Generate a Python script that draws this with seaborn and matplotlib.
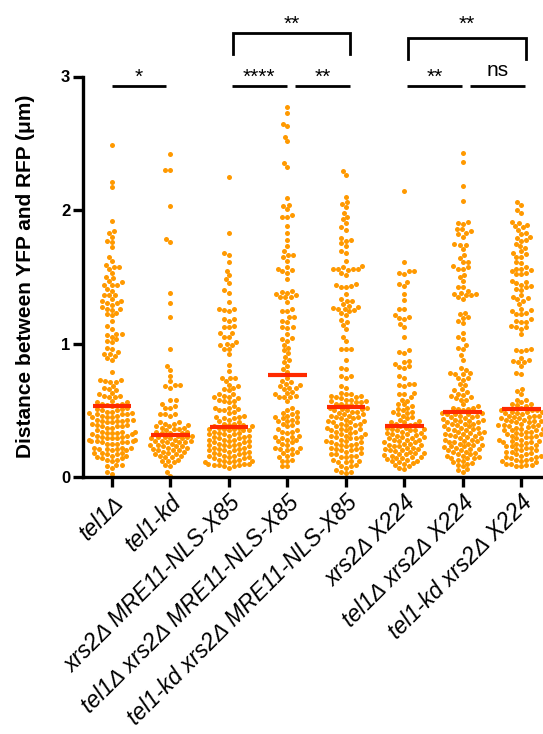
import warnings
warnings.filterwarnings("ignore")
import numpy as np
import pandas as pd
import matplotlib
matplotlib.use("Agg")
import matplotlib.pyplot as plt
import seaborn as sns

# ---------------- data ----------------
categories = ["tel1Δ", "tel1-kd", "xrs2Δ MRE11-NLS-X85", "tel1Δ xrs2Δ MRE11-NLS-X85",
              "tel1-kd xrs2Δ MRE11-NLS-X85", "xrs2Δ X224", "tel1Δ xrs2Δ X224",
              "tel1-kd xrs2Δ X224"]

tel1_del = [
    2.49, 2.21, 2.17, 1.92, 1.84, 1.83, 1.80, 1.77, 1.76, 1.72,
    1.65, 1.62, 1.59, 1.57, 1.57, 1.56, 1.53, 1.50, 1.49, 1.47,
    1.46, 1.44, 1.44, 1.44, 1.41, 1.39, 1.36, 1.36, 1.36, 1.33,
    1.32, 1.32, 1.30, 1.30, 1.29, 1.27, 1.26, 1.26, 1.25, 1.23,
    1.22, 1.21, 1.17, 1.13, 1.11, 1.07, 1.07, 1.06, 1.05, 1.03,
    1.02, 1.01, 0.97, 0.96, 0.94, 0.92, 0.92, 0.91, 0.89, 0.88,
    0.79, 0.73, 0.73, 0.72, 0.71, 0.71, 0.68, 0.67, 0.66, 0.65,
    0.63, 0.62, 0.61, 0.61, 0.60, 0.60, 0.57, 0.56, 0.56, 0.55,
    0.55, 0.54, 0.54, 0.53,
    0.52, 0.51, 0.51, 0.50, 0.50, 0.49, 0.49, 0.48, 0.48,
    0.47, 0.47, 0.47, 0.46, 0.46, 0.45, 0.45, 0.45,
    0.43, 0.43, 0.43, 0.42, 0.42, 0.42, 0.41, 0.41,
    0.40, 0.39, 0.39, 0.38, 0.38, 0.38, 0.37, 0.37,
    0.35, 0.34, 0.34, 0.34, 0.33, 0.33, 0.33, 0.32, 0.32,
    0.31, 0.31, 0.30, 0.30, 0.29, 0.29, 0.29, 0.28, 0.28,
    0.27, 0.27, 0.27, 0.26, 0.26, 0.26, 0.25, 0.25, 0.25,
    0.22, 0.22, 0.22, 0.21, 0.21, 0.21, 0.20, 0.20,
    0.18, 0.18, 0.18, 0.17, 0.17, 0.16, 0.16,
    0.15, 0.14, 0.14, 0.13, 0.13, 0.12,
    0.09, 0.09, 0.08, 0.07,
    0.04, 0.02]

tel1_kd = [
    2.42, 2.30, 2.30, 2.03, 1.78, 1.76, 1.38, 1.30, 1.20, 0.96,
    0.83, 0.80, 0.76, 0.72, 0.69, 0.69, 0.68, 0.67, 0.58, 0.575,
    0.55, 0.53, 0.52, 0.52, 0.47, 0.47, 0.47, 0.46, 0.41, 0.40,
    0.41, 0.40, 0.39, 0.38, 0.38, 0.37, 0.37, 0.36, 0.36, 0.35,
    0.34, 0.34, 0.33, 0.33, 0.33,
    0.31, 0.31, 0.30, 0.30, 0.30, 0.29, 0.29, 0.29,
    0.28, 0.27, 0.27, 0.27, 0.26, 0.26, 0.26, 0.25,
    0.24, 0.24, 0.23, 0.23, 0.23, 0.22, 0.22,
    0.21, 0.20, 0.20, 0.20, 0.19, 0.19, 0.18,
    0.17, 0.17, 0.16, 0.16, 0.15, 0.15,
    0.13, 0.12, 0.12, 0.11,
    0.09, 0.08, 0.04, 0.01]

xrs2_mre11_x85 = [
    2.25, 1.83, 1.675, 1.66, 1.61, 1.545, 1.51, 1.48, 1.45, 1.40,
    1.38, 1.31, 1.26, 1.255, 1.25, 1.245, 1.18, 1.18, 1.17, 1.13,
    1.12, 1.12, 1.08, 1.08, 1.05, 1.05, 1.01, 1.00, 0.99, 0.99,
    0.96, 0.96, 0.92, 0.84, 0.795, 0.745, 0.74, 0.74, 0.72,
    0.69, 0.68, 0.67, 0.66, 0.65,
    0.62, 0.62, 0.61, 0.60, 0.60, 0.59, 0.58, 0.57, 0.57, 0.56,
    0.53, 0.52, 0.52, 0.51, 0.50, 0.50, 0.49, 0.48,
    0.46, 0.45, 0.45, 0.44, 0.44, 0.43, 0.42, 0.41,
    0.40, 0.40, 0.39, 0.39, 0.38, 0.38,
    0.37, 0.37, 0.36, 0.36, 0.36, 0.35, 0.35, 0.35, 0.34,
    0.33, 0.33, 0.32, 0.32, 0.32, 0.31, 0.31, 0.30, 0.30,
    0.29, 0.29, 0.28, 0.28, 0.28, 0.27, 0.27, 0.26, 0.26,
    0.25, 0.25, 0.24, 0.24, 0.24, 0.23, 0.23, 0.22, 0.22,
    0.21, 0.21, 0.20, 0.20, 0.20, 0.19, 0.19, 0.18, 0.18,
    0.17, 0.17, 0.16, 0.16, 0.16, 0.15, 0.15, 0.14, 0.14,
    0.13, 0.13, 0.12, 0.12, 0.12, 0.11, 0.11,
    0.10, 0.10, 0.10, 0.09, 0.09, 0.09, 0.08, 0.08, 0.07]

tel1_del_xrs2_mre11_x85 = [
    2.775, 2.73, 2.645, 2.63, 2.55, 2.515, 2.35, 2.32, 2.09, 2.04,
    2.03, 2.005, 1.96, 1.95, 1.945, 1.88, 1.825, 1.775, 1.73, 1.69,
    1.665, 1.665, 1.645, 1.62, 1.57, 1.56, 1.55, 1.54, 1.53, 1.48,
    1.39, 1.385, 1.38, 1.37, 1.36, 1.35, 1.345, 1.345, 1.31, 1.26,
    1.245, 1.245, 1.195, 1.195, 1.17, 1.16, 1.12, 1.12, 1.115, 1.07,
    1.04, 1.03, 1.02, 0.99, 0.97, 0.95, 0.93, 0.90, 0.875, 0.86,
    0.83, 0.81, 0.79,
    0.74, 0.72, 0.71, 0.70, 0.69, 0.68, 0.67, 0.67, 0.66, 0.64,
    0.63, 0.62, 0.61, 0.60, 0.60, 0.60, 0.57, 0.52,
    0.50, 0.49, 0.48, 0.47, 0.46, 0.45, 0.45, 0.44,
    0.43, 0.42, 0.42, 0.41, 0.40, 0.39, 0.38,
    0.36, 0.35, 0.34, 0.34, 0.33, 0.31,
    0.30, 0.30, 0.29, 0.28, 0.28, 0.27, 0.26, 0.25, 0.24,
    0.22, 0.22, 0.21, 0.21, 0.20, 0.19, 0.18, 0.17,
    0.16, 0.15, 0.13, 0.12, 0.12, 0.08, 0.08]

tel1_kd_xrs2_mre11_x85 = [
    2.29, 2.26, 2.10, 2.06, 2.045, 2.02, 1.98, 1.95, 1.93, 1.90,
    1.87, 1.85, 1.79, 1.775, 1.77, 1.75, 1.73, 1.69, 1.68, 1.62,
    1.58, 1.57, 1.56, 1.56, 1.56, 1.56, 1.55, 1.53, 1.515, 1.445,
    1.44, 1.43, 1.42, 1.42, 1.37, 1.33, 1.32, 1.32, 1.295, 1.28,
    1.27, 1.265, 1.26, 1.26, 1.25, 1.24, 1.23, 1.21, 1.175, 1.16,
    1.14, 1.11, 1.05, 1.02, 0.96, 0.96, 0.96, 0.88, 0.82, 0.81,
    0.76, 0.755, 0.745, 0.68, 0.67,
    0.63, 0.62, 0.62, 0.61, 0.61, 0.60, 0.60, 0.59, 0.58, 0.58,
    0.57, 0.57, 0.56, 0.56, 0.55, 0.55, 0.54, 0.54,
    0.52, 0.52, 0.51, 0.51, 0.50, 0.50, 0.49, 0.49, 0.48,
    0.47, 0.47, 0.46, 0.46, 0.45, 0.45, 0.44, 0.44, 0.43,
    0.42, 0.42, 0.41, 0.41, 0.40, 0.40, 0.39, 0.39, 0.38,
    0.37, 0.37, 0.36, 0.36, 0.35, 0.35, 0.34, 0.34, 0.33,
    0.32, 0.32, 0.31, 0.31, 0.30, 0.30, 0.29, 0.29, 0.28,
    0.27, 0.27, 0.26, 0.26, 0.25, 0.25, 0.24, 0.24, 0.23,
    0.22, 0.22, 0.21, 0.21, 0.20, 0.20, 0.19, 0.18,
    0.17, 0.17, 0.16, 0.16, 0.15, 0.15,
    0.13, 0.12, 0.12, 0.11, 0.11,
    0.09, 0.08, 0.08, 0.07,
    0.05, 0.04, 0.04, 0.03]

xrs2_x224 = [
    2.14, 1.61, 1.545, 1.54, 1.53, 1.52, 1.46, 1.445, 1.43, 1.37,
    1.325, 1.26, 1.255, 1.21, 1.195, 1.19, 1.18, 1.145, 1.125, 1.05,
    0.95, 0.935, 0.93, 0.87, 0.865, 0.845, 0.83, 0.825, 0.82, 0.76,
    0.745, 0.70, 0.695, 0.69, 0.68, 0.63, 0.625, 0.62, 0.60, 0.58,
    0.57, 0.55, 0.545, 0.53, 0.52,
    0.51, 0.50, 0.49, 0.49, 0.48, 0.47, 0.46, 0.45, 0.44, 0.43,
    0.42, 0.41, 0.41, 0.40, 0.40, 0.39,
    0.38, 0.37, 0.37, 0.36, 0.36, 0.355, 0.35, 0.35,
    0.34, 0.33, 0.33, 0.32, 0.32, 0.315, 0.31,
    0.30, 0.30, 0.29, 0.29, 0.28, 0.28, 0.275, 0.27,
    0.26, 0.26, 0.25, 0.25, 0.24, 0.24, 0.235,
    0.23, 0.22, 0.22, 0.21, 0.21, 0.20, 0.20, 0.195,
    0.19, 0.18, 0.18, 0.17, 0.17, 0.165, 0.16,
    0.15, 0.15, 0.14, 0.14, 0.135, 0.13,
    0.12, 0.12, 0.11, 0.105, 0.10,
    0.09, 0.08, 0.07, 0.06]

tel1_del_xrs2_x224 = [
    2.43, 2.36, 2.18, 2.07, 1.91, 1.90, 1.895, 1.86, 1.855, 1.84,
    1.83, 1.82, 1.80, 1.745, 1.74, 1.74, 1.71, 1.66, 1.64, 1.61,
    1.61, 1.58, 1.57, 1.56, 1.56, 1.515, 1.50, 1.47, 1.425, 1.425,
    1.395, 1.38, 1.37, 1.37, 1.36, 1.36, 1.35, 1.33, 1.23, 1.22,
    1.20, 1.19, 1.17, 1.15, 1.08, 1.045, 1.03, 0.99, 0.97, 0.96,
    0.915, 0.88, 0.82, 0.80, 0.78, 0.78, 0.77, 0.77, 0.745, 0.74,
    0.73, 0.70, 0.69, 0.66, 0.65, 0.64, 0.625, 0.615, 0.61, 0.60,
    0.59, 0.58, 0.58, 0.545, 0.53, 0.52, 0.52, 0.51, 0.51, 0.50,
    0.48, 0.48, 0.475, 0.47, 0.47, 0.46, 0.46, 0.45, 0.45, 0.44,
    0.435, 0.43, 0.43, 0.42, 0.42, 0.41, 0.41, 0.40, 0.40,
    0.395, 0.39, 0.38, 0.38, 0.37, 0.37, 0.36, 0.36, 0.355, 0.35,
    0.34, 0.34, 0.33, 0.33, 0.32, 0.32, 0.315, 0.31, 0.31,
    0.30, 0.29, 0.29, 0.28, 0.28, 0.27, 0.27, 0.265,
    0.26, 0.25, 0.25, 0.24, 0.24, 0.23, 0.23, 0.225,
    0.22, 0.21, 0.21, 0.20, 0.20, 0.19, 0.185,
    0.18, 0.17, 0.17, 0.16, 0.16, 0.15, 0.145,
    0.14, 0.14, 0.13, 0.12, 0.11, 0.105,
    0.10, 0.09, 0.08, 0.06, 0.05, 0.04]

tel1_kd_xrs2_x224 = [
    2.06, 2.04, 2.00, 1.975, 1.91, 1.90, 1.89, 1.88, 1.87, 1.85,
    1.83, 1.82, 1.80, 1.79, 1.775, 1.77, 1.745, 1.73, 1.715, 1.69,
    1.68, 1.67, 1.65, 1.65, 1.61, 1.60, 1.57, 1.56, 1.56, 1.55,
    1.54, 1.53, 1.52, 1.52, 1.47, 1.46, 1.45, 1.44, 1.43, 1.42,
    1.41, 1.40, 1.36, 1.35, 1.34, 1.33, 1.32, 1.295, 1.26, 1.25,
    1.24, 1.23, 1.22, 1.22, 1.18, 1.17, 1.16, 1.16, 1.13, 1.12,
    1.12, 1.11, 1.07, 0.96, 0.955, 0.95, 0.945, 0.89, 0.88, 0.87,
    0.86, 0.86, 0.83, 0.78, 0.77, 0.66, 0.645, 0.62, 0.58, 0.575,
    0.56, 0.55, 0.545, 0.54, 0.53, 0.52,
    0.505, 0.50, 0.50, 0.49, 0.49, 0.49, 0.48, 0.48,
    0.47, 0.46, 0.46, 0.46, 0.45, 0.45, 0.445, 0.44,
    0.43, 0.43, 0.42, 0.42, 0.42, 0.41, 0.41,
    0.40, 0.39, 0.39, 0.39, 0.38, 0.38, 0.375, 0.37,
    0.36, 0.36, 0.35, 0.35, 0.35, 0.34, 0.34,
    0.33, 0.325, 0.32, 0.32, 0.31, 0.31, 0.30, 0.30,
    0.29, 0.28, 0.28, 0.27, 0.27, 0.26, 0.26, 0.255,
    0.25, 0.24, 0.24, 0.23, 0.23, 0.22,
    0.215, 0.21, 0.20, 0.20, 0.19, 0.19, 0.18,
    0.175, 0.17, 0.16, 0.16, 0.15, 0.15,
    0.14, 0.135, 0.13, 0.13, 0.12, 0.12,
    0.11, 0.10, 0.10, 0.09, 0.09, 0.085, 0.08]

group_values = [tel1_del, tel1_kd, xrs2_mre11_x85, tel1_del_xrs2_mre11_x85,
                tel1_kd_xrs2_mre11_x85, xrs2_x224, tel1_del_xrs2_x224, tel1_kd_xrs2_x224]

# medians shown by the red bars
medians = [0.532, 0.317, 0.377, 0.765, 0.527, 0.382, 0.490, 0.510]

# significance annotations: (first group, second group, label)
pair_tests = [(0, 1, "*"), (2, 3, "****"), (3, 4, "**"), (5, 6, "**"), (6, 7, "ns")]
wide_tests = [(2, 4, "**"), (5, 7, "**")]

# ---------------- figure ----------------
plt.rcParams['font.family'] = ['Liberation Sans', 'DejaVu Sans']

df = pd.DataFrame({
    "group": np.repeat(categories, [len(v) for v in group_values]),
    "value": np.concatenate([np.asarray(v, float) for v in group_values]),
})

fig = plt.figure(figsize=(5.43, 7.34), dpi=100)
W, H = 543.0, 734.0
x0_px, y0_px, step_px, ytop_px = 82.7, 477.0, 58.47, 76.5
ax = fig.add_axes([x0_px / W, (H - y0_px) / H, 8 * step_px / W, (y0_px - ytop_px) / H])

orange = "#ff9900"
red = "#ff2a00"

sns.swarmplot(data=df, x="group", y="value", order=categories, color=orange,
              size=3.6, linewidth=0, ax=ax, zorder=2, warn_thresh=1.0)

xs = np.arange(len(categories))
ax.hlines(medians, xs - 0.33, xs + 0.33, colors=red, linewidth=3.0, zorder=3)

ax.set_xlim(-0.5, 7.5)
ax.set_ylim(0, 3)
ax.set_yticks([0, 1, 2, 3])
ax.set_yticklabels(["0", "1", "2", "3"], fontsize=12, fontweight="bold")
ax.set_xticks(xs)
ax.set_xticklabels(categories, rotation=45, ha="right", rotation_mode="anchor",
                   fontsize=16.5, fontstyle="italic")
ax.set_xlabel("")
ax.set_ylabel("Distance between YFP and RFP (μm)", fontsize=15, fontweight="bold",
              labelpad=19)

for s in ["top", "right"]:
    ax.spines[s].set_visible(False)
for s in ["left", "bottom"]:
    ax.spines[s].set_linewidth(2.4)
    ax.spines[s].set_color("black")
ax.tick_params(axis="both", length=7, width=2.4, color="black", direction="out")
ax.tick_params(axis="y", pad=2)
ax.tick_params(axis="x", pad=3)

# significance bars
lw = 2.0
y_line = 2.93
for a, b, lab in pair_tests:
    xa = a + (0.0 if a in (0,) else 0.05)
    xb = b - (0.07 if b in (1,) else 0.0)
    if (a, b) == (3, 4) or (a, b) == (6, 7):
        xa, xb = a + 0.13, b + 0.07
    if (a, b) == (2, 3) or (a, b) == (5, 6):
        xa, xb = a + 0.05, b - 0.01
    ax.plot([xa, xb], [y_line, y_line], color="black", lw=lw, clip_on=False,
            solid_capstyle="butt")
    yt = 3.005 if lab == "ns" else 2.955
    ax.text((xa + xb) / 2, yt, lab, ha="center", va="baseline", fontsize=15,
            clip_on=False)

for (a, b, lab), (ytop, ybot) in zip(wide_tests, [(3.325, 3.17), (3.29, 3.13)]):
    xa, xb = a + 0.07, b + 0.08
    ax.plot([xa, xa, xb, xb], [ybot, ytop, ytop, ybot], color="black", lw=lw,
            clip_on=False, solid_joinstyle="miter")
    ax.text((xa + xb) / 2, 3.35, lab, ha="center", va="baseline", fontsize=15,
            clip_on=False)

fig.savefig("out.png", dpi=100)
